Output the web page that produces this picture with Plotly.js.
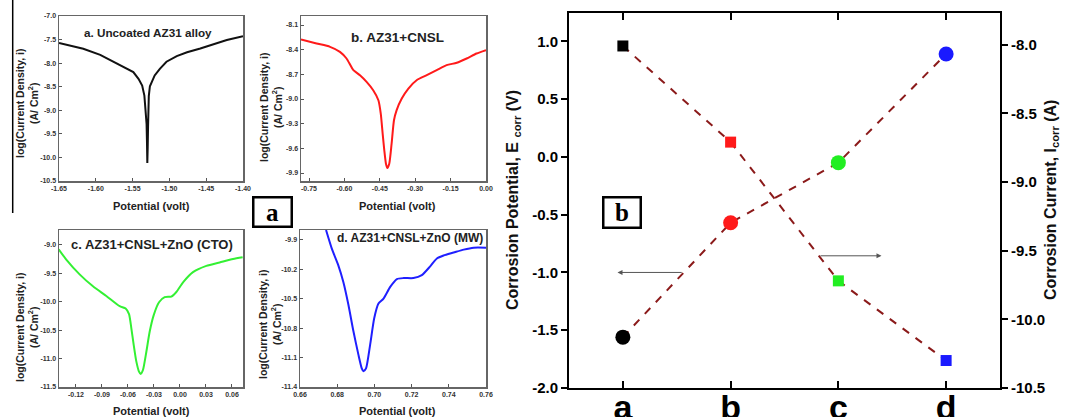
<!DOCTYPE html>
<html><head><meta charset="utf-8">
<script src="https://cdn.plot.ly/plotly-3.0.1.min.js"></script>
<style>html,body{margin:0;padding:0;background:#fff}#chart{width:1068px;height:417px}</style>
</head><body><div id="chart"></div>
<script>
// ---------- Panel a: Uncoated AZ31 alloy ----------
const aPotential = [-1.650,-1.639,-1.617,-1.594,-1.576,-1.562,-1.556,-1.549,-1.542,-1.537,-1.534,-1.532,-1.531,-1.5305,-1.530,-1.5295,-1.529,-1.5285,-1.528,-1.5265,-1.524,-1.520,-1.513,-1.504,-1.490,-1.476,-1.458,-1.440,-1.422,-1.400];
const aLogI      = [-7.574,-7.610,-7.695,-7.823,-7.965,-8.085,-8.121,-8.191,-8.333,-8.475,-8.688,-9.007,-9.291,-9.645,-10.12,-9.80,-9.35,-8.92,-8.70,-8.49,-8.40,-8.26,-8.12,-7.97,-7.85,-7.77,-7.69,-7.60,-7.51,-7.43];
const aXTicks = [-1.65,-1.60,-1.55,-1.50,-1.45,-1.40];
const aXLabels = ['-1.65','-1.60','-1.55','-1.50','-1.45','-1.40'];
const aYTicks = [-7.0,-7.5,-8.0,-8.5,-9.0,-9.5,-10.0,-10.5];
const aYLabels = ['-7.0','-7.5','-8.0','-8.5','-9.0','-9.5','-10.0','-10.5'];

// ---------- Panel b: AZ31+CNSL ----------
const bPotential = [-0.784,-0.718,-0.661,-0.619,-0.591,-0.562,-0.534,-0.506,-0.478,-0.456,-0.446,-0.438,-0.431,-0.424,-0.418,-0.410,-0.400,-0.390,-0.379,-0.357,-0.329,-0.294,-0.251,-0.209,-0.167,-0.124,-0.082,-0.040,0.000];
const bLogI      = [-8.275,-8.324,-8.365,-8.426,-8.507,-8.649,-8.710,-8.791,-8.893,-9.015,-9.177,-9.421,-9.624,-9.787,-9.840,-9.787,-9.543,-9.258,-9.137,-8.994,-8.872,-8.771,-8.710,-8.649,-8.588,-8.559,-8.507,-8.446,-8.405];
const bXTicks = [-0.75,-0.60,-0.45,-0.30,-0.15,0.00];
const bXLabels = ['-0.75','-0.60','-0.45','-0.30','-0.15','0.00'];
const bYTicks = [-8.1,-8.4,-8.7,-9.0,-9.3,-9.6,-9.9];
const bYLabels = ['-8.1','-8.4','-8.7','-9.0','-9.3','-9.6','-9.9'];

// ---------- Panel c: AZ31+CNSL+ZnO (CTO) ----------
const cPotential = [-0.140,-0.1312,-0.1158,-0.1004,-0.0850,-0.0696,-0.0627,-0.0588,-0.0562,-0.0535,-0.0504,-0.0473,-0.0454,-0.0427,-0.0388,-0.0350,-0.0304,-0.0242,-0.0177,-0.0100,-0.0042,0.0035,0.0150,0.0304,0.0458,0.0612,0.0723];
const cLogI      = [-9.08,-9.26,-9.52,-9.73,-9.90,-10.08,-10.12,-10.22,-10.46,-10.75,-11.05,-11.23,-11.27,-11.20,-10.88,-10.53,-10.24,-10.01,-9.92,-9.91,-9.83,-9.66,-9.48,-9.37,-9.31,-9.25,-9.22];
const cXTicks = [-0.12,-0.09,-0.06,-0.03,0.00,0.03,0.06];
const cXLabels = ['-0.12','-0.09','-0.06','-0.03','0.00','0.03','0.06'];
const cYTicks = [-9.0,-9.5,-10.0,-10.5,-11.0,-11.5];
const cYLabels = ['-9.0','-9.5','-10.0','-10.5','-11.0','-11.5'];

// ---------- Panel d: AZ31+CNSL+ZnO (MW) ----------
const dPotential = [0.674,0.6771,0.6806,0.6833,0.6860,0.6887,0.6914,0.6932,0.6941,0.6955,0.6977,0.6999,0.7022,0.7049,0.7085,0.7121,0.7157,0.7210,0.7255,0.7300,0.7336,0.7372,0.7426,0.7480,0.7534,0.7600];
const dLogI      = [-9.80,-9.99,-10.16,-10.33,-10.56,-10.83,-11.07,-11.21,-11.24,-11.21,-10.97,-10.70,-10.55,-10.50,-10.38,-10.30,-10.29,-10.29,-10.26,-10.17,-10.09,-10.06,-10.03,-10.00,-9.98,-9.98];
const dXTicks = [0.66,0.68,0.70,0.72,0.74,0.76];
const dXLabels = ['0.66','0.68','0.70','0.72','0.74','0.76'];
const dYTicks = [-9.9,-10.2,-10.5,-10.8,-11.1,-11.4];
const dYLabels = ['-9.9','-10.2','-10.5','-10.8','-11.1','-11.4'];

// ---------- Main panel b: Ecorr and Icorr ----------
const samples = ['a','b','c','d'];
const sampleIndex = [0,1,2,3];
const Ecorr = [-1.56,-0.57,-0.05,0.89];      // left axis (circles)
const Icorr = [-8.01,-8.71,-9.72,-10.30];    // right axis (squares)
const sampleColors = ['#000000','#ff1a1a','#22ee22','#1a1aff'];
const eTicks = [1.0,0.5,0.0,-0.5,-1.0,-1.5,-2.0];
const eLabels = ['1.0','0.5','0.0','-0.5','-1.0','-1.5','-2.0'];
const iTicks = [-8.0,-8.5,-9.0,-9.5,-10.0,-10.5];
const iLabels = ['-8.0','-8.5','-9.0','-9.5','-10.0','-10.5'];

// ---------- layout helpers ----------
const W = 1068, H = 417;
const FONT = 'Arial, "Liberation Sans", sans-serif';
const SERIF = '"Liberation Serif", "Times New Roman", serif';
const px = x => x / W;
const py = y => 1 - y / H;

function smallAxis(domain, range, vals, labels, anchor) {
  return {
    domain: domain, range: range, anchor: anchor,
    tickmode: 'array', tickvals: vals, ticktext: labels,
    ticks: 'inside', ticklen: 3, tickwidth: 1, tickcolor: '#555',
    showline: true, mirror: true, linecolor: '#666', linewidth: 1.5,
    showgrid: false, zeroline: false,
    tickfont: {family: FONT, size: 7, color: '#333', weight: 'bold'},
    fixedrange: true
  };
}

const colA = [px(59), px(243)], colB = [px(301), px(486)];
const rowTop = [py(181), py(16)], rowBot = [py(387), py(230)];

const traces = [
  {x: aPotential, y: aLogI, xaxis: 'x', yaxis: 'y', mode: 'lines', line: {color: '#111', width: 2}, hoverinfo: 'skip'},
  {x: bPotential, y: bLogI, xaxis: 'x2', yaxis: 'y2', mode: 'lines', line: {color: '#ff1a1a', width: 2, shape: 'spline', smoothing: 0.6}, hoverinfo: 'skip'},
  {x: cPotential, y: cLogI, xaxis: 'x3', yaxis: 'y3', mode: 'lines', line: {color: '#33f033', width: 2, shape: 'spline', smoothing: 0.6}, hoverinfo: 'skip'},
  {x: dPotential, y: dLogI, xaxis: 'x4', yaxis: 'y4', mode: 'lines', line: {color: '#1f1fff', width: 2, shape: 'spline', smoothing: 0.6}, hoverinfo: 'skip'},
  {x: sampleIndex, y: Ecorr, xaxis: 'x5', yaxis: 'y5', mode: 'lines', line: {color: '#8b1a1a', width: 2, dash: '8px,8px'}, hoverinfo: 'skip'},
  {x: sampleIndex, y: Icorr, xaxis: 'x5', yaxis: 'y6', mode: 'lines', line: {color: '#8b1a1a', width: 2, dash: '8px,8px'}, hoverinfo: 'skip'},
  {x: sampleIndex, y: Ecorr, xaxis: 'x5', yaxis: 'y5', mode: 'markers', marker: {symbol: 'circle', size: 15, color: sampleColors}, hoverinfo: 'skip'},
  {x: sampleIndex, y: Icorr, xaxis: 'x5', yaxis: 'y6', mode: 'markers', marker: {symbol: 'square', size: 11, color: sampleColors}, hoverinfo: 'skip'}
];

const layout = {
  width: W, height: H,
  margin: {l: 0, r: 0, t: 0, b: 0},
  paper_bgcolor: '#fff', plot_bgcolor: '#fff',
  showlegend: false,
  font: {family: FONT},
  xaxis:  smallAxis(colA, [-1.65, -1.40], aXTicks, aXLabels, 'y'),
  yaxis:  smallAxis(rowTop, [-10.5, -7.0], aYTicks, aYLabels, 'x'),
  xaxis2: smallAxis(colB, [-0.784, 0.0], bXTicks, bXLabels, 'y2'),
  yaxis2: smallAxis(rowTop, [-9.997, -7.99], bYTicks, bYLabels, 'x2'),
  xaxis3: smallAxis(colA, [-0.1396, 0.0727], cXTicks, cXLabels, 'y3'),
  yaxis3: smallAxis(rowBot, [-11.5, -8.74], cYTicks, cYLabels, 'x3'),
  xaxis4: smallAxis([px(300), px(486)], [0.66, 0.76], dXTicks, dXLabels, 'y4'),
  yaxis4: smallAxis(rowBot, [-11.4, -9.80], dYTicks, dYLabels, 'x4'),
  xaxis5: {
    domain: [px(569), px(1000)], range: [-0.5, 3.5], anchor: 'y5',
    tickmode: 'array', tickvals: sampleIndex, ticktext: samples,
    ticks: 'inside', ticklen: 7, tickwidth: 2, tickcolor: '#000',
    showline: true, mirror: 'ticks', linecolor: '#000', linewidth: 2,
    showgrid: false, zeroline: false,
    ticklabelstandoff: -12,
    tickfont: {family: FONT, size: 34, color: '#000', weight: 'bold'},
    fixedrange: true
  },
  yaxis5: {
    domain: [py(388), py(13)], range: [-2.0, 1.245], anchor: 'x5',
    tickmode: 'array', tickvals: eTicks, ticktext: eLabels,
    ticks: 'outside', ticklen: 6, tickwidth: 2, tickcolor: '#000',
    showline: true, linecolor: '#000', linewidth: 2,
    showgrid: false, zeroline: false,
    tickfont: {family: FONT, size: 15, color: '#000', weight: 'bold'},
    fixedrange: true
  },
  yaxis6: {
    overlaying: 'y5', side: 'right', anchor: 'x5',
    range: [-10.5, -7.77],
    tickmode: 'array', tickvals: iTicks, ticktext: iLabels,
    ticks: 'outside', ticklen: 6, tickwidth: 2, tickcolor: '#000',
    showline: true, linecolor: '#000', linewidth: 2,
    showgrid: false, zeroline: false,
    tickfont: {family: FONT, size: 15, color: '#000', weight: 'bold'},
    fixedrange: true
  },
  shapes: [
    {type: 'line', xref: 'paper', yref: 'paper', x0: px(12.7), x1: px(12.7), y0: py(0), y1: py(213), line: {color: '#000', width: 1.5}}
  ],
  annotations: []
};

const ann = layout.annotations;
function txt(text, x, y, size, opts) {
  ann.push(Object.assign({
    text: text, xref: 'paper', yref: 'paper', x: px(x), y: py(y),
    xanchor: 'center', yanchor: 'middle', showarrow: false,
    font: {family: FONT, size: size, color: '#222', weight: 'bold'}
  }, opts || {}));
}
// panel titles
txt('a. Uncoated AZ31 alloy', 148, 33, 11.7);
txt('b. AZ31+CNSL', 397, 37, 13.5);
txt('c. AZ31+CNSL+ZnO (CTO)', 152, 244, 13);
txt('d. AZ31+CNSL+ZnO (MW)', 410, 238, 12);
// x titles
txt('Potential (volt)', 151, 206, 11);
txt('Potential (volt)', 397, 206, 11);
txt('Potential (volt)', 151, 411, 11);
txt('Potential (volt)', 397, 411, 11);
// y titles
const yTitle = 'log(Current Density, i)<br>(A/ Cm<sup>2</sup>)';
txt(yTitle, 27, 104, 10.5, {textangle: -90});
txt(yTitle, 271, 108, 10.5, {textangle: -90});
txt(yTitle, 27, 328, 10.5, {textangle: -90});
txt(yTitle, 270, 325, 10.5, {textangle: -90});
// main axis titles
txt('Corrosion Potential, E <sub>corr</sub> (V)', 513, 200, 16, {textangle: -90, font: {family: FONT, size: 16, color: '#111', weight: 'bold'}});
txt('Corrosion Current, I<sub>corr</sub> (A)', 1051, 200, 16, {textangle: -90, font: {family: FONT, size: 16, color: '#111', weight: 'bold'}});
// boxed labels
const boxFont = {family: SERIF, size: 25, color: '#000', weight: 'bold'};
txt('a', 272.5, 212, 25, {font: boxFont, bordercolor: '#000', borderwidth: 2.5, borderpad: 0, bgcolor: '#fff', width: 36, height: 27});
txt('b', 622, 212.5, 25, {font: boxFont, bordercolor: '#000', borderwidth: 2.5, borderpad: 0, bgcolor: '#fff', width: 35, height: 28});
// arrows (data coordinates of main panel)
ann.push({xref: 'x5', yref: 'y5', axref: 'x5', ayref: 'y5', x: -0.05, y: -1.0, ax: 0.56, ay: -1.0, text: '', showarrow: true, arrowhead: 2, arrowsize: 1, arrowwidth: 1, arrowcolor: '#555'});
ann.push({xref: 'x5', yref: 'y5', axref: 'x5', ayref: 'y5', x: 2.40, y: -0.856, ax: 1.82, ay: -0.856, text: '', showarrow: true, arrowhead: 2, arrowsize: 1, arrowwidth: 1, arrowcolor: '#555'});

Plotly.newPlot('chart', traces, layout, {staticPlot: true, displayModeBar: false});
</script></body></html>
